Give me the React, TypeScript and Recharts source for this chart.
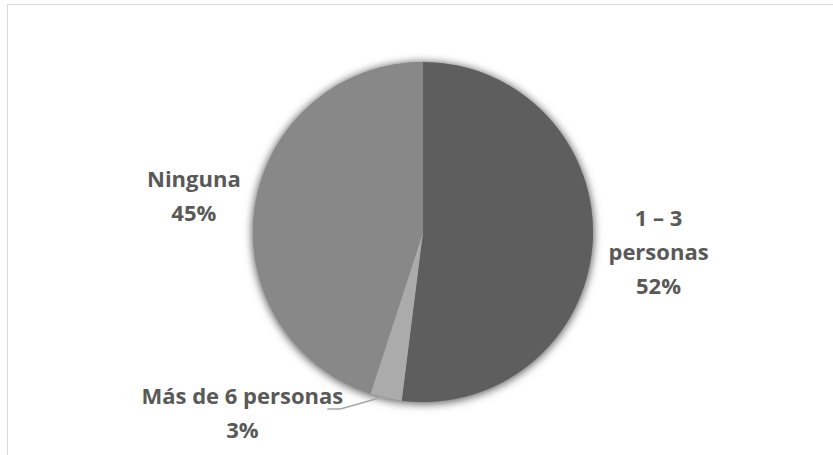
import React from "react";
import { Cell, Pie, PieChart } from "recharts";

const labels = ["1 – 3 personas", "Más de 6 personas", "Ninguna"];
const labelLines = [["1 – 3", "personas"], ["Más de 6 personas"], ["Ninguna"]];
const shares = [52, 3, 45];
const colors = ["#5e5e5e", "#ababab", "#888888"];

const data = labels.map((name, i) => ({ name, value: shares[i] }));
const RAD = Math.PI / 180;
const LH = 34;
const FONT = 22;

function renderLabel(props: any) {
  const { cx, cy, midAngle, outerRadius, index, value } = props;
  const lines = [...labelLines[index], `${value}%`];
  const cos = Math.cos(-midAngle * RAD);
  const sin = Math.sin(-midAngle * RAD);

  if (index === 1) {
    // small slice: excel-style leader line out to the lower left
    const ex = cx + (outerRadius - 2) * cos;
    const ey = cy + (outerRadius - 2) * sin;
    const mx = ex - 46;
    const my = ey + 13;
    const tx = mx - 98;
    const ty = my - 5;
    return (
      <g key={`lbl-${index}`}>
        <polyline points={`${ex},${ey} ${mx},${my} ${mx - 13},${my}`} fill="none" stroke="#a6a6a6" strokeWidth={1.5} />
        <text x={tx} y={ty} textAnchor="middle" fill="#595959" fontSize={FONT} fontWeight={700} fontFamily="'Open Sans', sans-serif">
          {lines.map((l, i) => (
            <tspan key={i} x={tx} dy={i === 0 ? 0 : LH}>{l}</tspan>
          ))}
        </text>
      </g>
    );
  }

  const r = outerRadius + (index === 0 ? 66 : 62);
  const x = cx + r * cos;
  const y = cy + r * sin + (index === 0 ? 5 : 0);
  const first = y - ((lines.length - 1) * LH) / 2 + 8;
  return (
    <text key={`lbl-${index}`} x={x} y={first} textAnchor="middle" fill="#595959" fontSize={FONT} fontWeight={700} fontFamily="'Open Sans', sans-serif">
      {lines.map((l, i) => (
        <tspan key={i} x={x} dy={i === 0 ? 0 : LH}>{l}</tspan>
      ))}
    </text>
  );
}

export default function App() {
  return (
    <div style={s.wrap}>
      <style>{`.shadow-pie { filter: drop-shadow(0px 1px 4px rgba(0,0,0,0.4)); }`}</style>
      <div style={s.frame} />
      <div style={s.chart}>
        <PieChart width={833} height={455} margin={{ top: 0, right: 0, bottom: 0, left: 0 }}>
          <Pie
            className="shadow-pie"
            data={[{ name: "base", value: 1 }]}
            dataKey="value"
            cx={423}
            cy={232}
            outerRadius={170}
            startAngle={90}
            endAngle={-270}
            fill="#888888"
            stroke="none"
            isAnimationActive={false}
          />
          <Pie
            data={data}
            dataKey="value"
            nameKey="name"
            cx={423}
            cy={232}
            outerRadius={170}
            startAngle={90}
            endAngle={-270}
            stroke="none"
            label={renderLabel}
            labelLine={false}
            isAnimationActive={false}
          >
            {data.map((d, i) => (
              <Cell key={d.name} fill={colors[i]} />
            ))}
          </Pie>
        </PieChart>
      </div>
    </div>
  );
}

const s: Record<string, React.CSSProperties> = {
  wrap: { position: "absolute", left: 0, top: 0, width: 833, height: 455, overflow: "hidden", background: "#fff" },
  frame: { position: "absolute", left: 7, top: 4, width: 900, height: 600, border: "1.5px solid #d9d9d9" },
  chart: { position: "absolute", left: 0, top: 0 },
};
